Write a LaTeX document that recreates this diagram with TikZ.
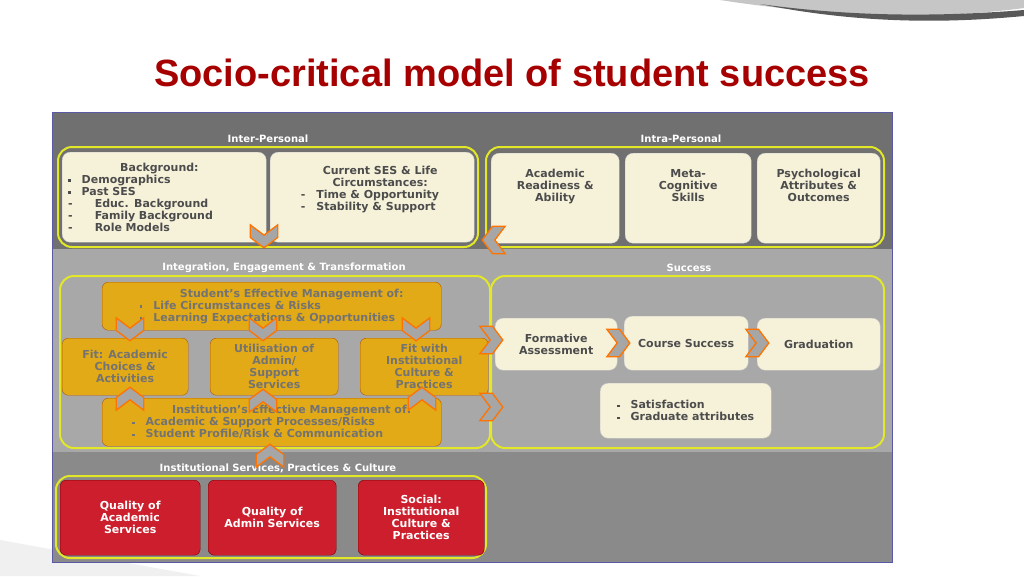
\documentclass[tikz,border=0pt]{standalone}
\usepackage{fontspec}
\setmainfont{DejaVu Sans}
\newfontfamily\titlefont{Liberation Sans}
\definecolor{band1}{RGB}{112,112,112}
\definecolor{band2}{RGB}{168,168,168}
\definecolor{band3}{RGB}{138,138,138}
\definecolor{creamc}{RGB}{246,242,218}
\definecolor{goldc}{RGB}{226,170,22}
\definecolor{redc}{RGB}{204,30,44}
\definecolor{ylw}{RGB}{226,232,40}
\newcommand{\sqb}{\raisebox{1.5pt}{\rule{2.5pt}{2.5pt}}}
\begin{document}
\begin{tikzpicture}[x=1pt,y=-1pt,
  lab/.style={text=white,font=\bfseries\fontsize{10}{11}\selectfont},
  outer/.style={draw=ylw,line width=2pt,rounded corners=14pt},
  cream/.style={fill=creamc,draw=gray!40,rounded corners=8pt,text=black!70,font=\bfseries\fontsize{11}{12}\selectfont,align=center},
  gold/.style={fill=goldc,draw=orange!70!black,rounded corners=6pt,text=black!55,font=\bfseries\fontsize{11}{12}\selectfont,align=center},
  redb/.style={fill=redc,draw=red!50!black,rounded corners=6pt,text=white,font=\bfseries\fontsize{11}{12}\selectfont,align=center},
  chev/.pic={\draw[fill=gray!70,draw=orange!90!red,line width=1.3pt,line join=miter,scale=1.15] (-12,-8)--(0,1)--(12,-8)--(12,3)--(0,12)--(-12,3)--cycle;}]
\useasboundingbox (0,0) rectangle (1024,576);
\fill[white] (0,0) rectangle (1024,576);
% decorative swoosh
\fill[gray!45] (720,0) .. controls (850,20) and (950,18) .. (1024,8) -- (1024,0) -- cycle;
\fill[gray!70!black] (760,4) .. controls (870,26) and (960,22) .. (1024,16) -- (1024,10) .. controls (950,16) and (860,18) .. (760,4) -- cycle;
\fill[gray!12] (0,540) -- (200,576) -- (0,576) -- cycle;
\node[font=\titlefont\bfseries\fontsize{38}{42}\selectfont,text=red!65!black] (title) at (512,73) {Socio-critical model of student success};
% panel
\fill[band1] (52,112) rectangle (892,249);
\fill[band2] (52,249) rectangle (892,452);
\fill[band3] (52,452) rectangle (892,562);
\draw[blue!30!gray,line width=0.6pt] (52,112) rectangle (892,562);
% labels
\node[lab] (lip) at (268,139) {Inter-Personal};
\node[lab] (lia) at (681,139) {Intra-Personal};
\node[lab] (lie) at (284,268) {Integration, Engagement \& Transformation};
\node[lab] (ls) at (689,268) {Success};
\node[lab] (lis) at (278,468) {Institutional Services, Practices \& Culture};
% outers
\draw[outer] (58,147) rectangle (478,247);
\draw[outer] (486,147) rectangle (884,247);
\draw[outer] (60,276) rectangle (490,448);
\draw[outer] (491,276) rectangle (884,448);
\draw[outer] (56,476) rectangle (486,558);
% interpersonal
\node[cream,minimum width=204pt,minimum height=90pt,anchor=north west,align=left,text width=192pt] (bg) at (62,152) {\hspace*{52pt}Background:\\ \sqb\quad Demographics\\ \sqb\quad Past SES\\ -\qquad Educ. Background\\ -\qquad Family Background\\ -\qquad Role Models};
\node[cream,minimum width=204pt,minimum height=90pt,anchor=north west] (cur) at (270,152) {\begin{tabular}{@{}l@{}}\multicolumn{1}{c}{\hspace*{16pt}Current SES \& Life}\\ \multicolumn{1}{c}{\hspace*{16pt}Circumstances:}\\ -\quad Time \& Opportunity\\ -\quad Stability \& Support\end{tabular}\\[14pt]};
% intrapersonal
\node[cream,minimum width=128pt,minimum height=90pt,anchor=north west] (acad) at (491,153) {Academic\\Readiness \&\\Ability\\[14pt]};
\node[cream,minimum width=126pt,minimum height=90pt,anchor=north west] (meta) at (625,153) {Meta-\\Cognitive\\Skills\\[14pt]};
\node[cream,minimum width=123pt,minimum height=90pt,anchor=north west] (psy) at (757,153) {Psychological\\Attributes \&\\Outcomes\\[14pt]};
% integration
\node[gold,minimum width=339pt,minimum height=48pt,anchor=north west,align=left] (sem) at (102,282) {\hspace*{40pt}Student's Effective Management of:\\ \sqb\quad Life Circumstances \& Risks\\ \sqb\quad Learning Expectations \& Opportunities};
\node[gold,minimum width=126pt,minimum height=57pt,anchor=north west] (fit) at (62,338) {Fit: Academic\\Choices \&\\Activities};
\node[gold,minimum width=128pt,minimum height=57pt,anchor=north west] (util) at (210,338) {Utilisation of\\Admin/\\Support\\Services};
\node[gold,minimum width=128pt,minimum height=57pt,anchor=north west] (fitc) at (360,338) {Fit with\\Institutional\\Culture \&\\Practices};
\node[gold,minimum width=339pt,minimum height=48pt,anchor=north west,align=left] (iem) at (102,398) {\hspace*{40pt}Institution's Effective Management of:\\ \sqb\quad Academic \& Support Processes/Risks\\ \sqb\quad Student Profile/Risk \& Communication};
% success
\node[cream,minimum width=122pt,minimum height=52pt,anchor=north west] (form) at (495,318) {Formative\\Assessment};
\node[cream,minimum width=124pt,minimum height=54pt,anchor=north west] (cs) at (624,316) {Course Success};
\node[cream,minimum width=123pt,minimum height=52pt,anchor=north west] (grad) at (757,318) {Graduation};
\node[cream,minimum width=171pt,minimum height=55pt,anchor=north west,align=left] (sat) at (600,383) {\sqb\quad Satisfaction\\ \sqb\quad Graduate attributes};
% institutional
\node[redb,minimum width=140pt,minimum height=75pt,anchor=north west] (qa) at (60,480) {Quality of\\Academic\\Services};
\node[redb,minimum width=128pt,minimum height=75pt,anchor=north west] (qad) at (208,480) {Quality of\\Admin Services};
\node[redb,minimum width=126pt,minimum height=75pt,anchor=north west] (soc) at (358,480) {Social:\\Institutional\\Culture \&\\Practices};
% chevrons
\pic at (264,234) {chev};
\pic at (130,327) {chev};
\pic at (263,327) {chev};
\pic at (416,327) {chev};
\pic[rotate=180] at (130,401) {chev};
\pic[rotate=180] at (263,403) {chev};
\pic[rotate=180] at (422,401) {chev};
\pic[rotate=180] at (270,458) {chev};
\pic[rotate=90] at (489,340) {chev};
\pic[rotate=90] at (489,407) {chev};
\pic[rotate=90] at (616,343) {chev};
\pic[rotate=90] at (755,343) {chev};
\pic[rotate=-90] at (496,240) {chev};
\end{tikzpicture}
\end{document}
